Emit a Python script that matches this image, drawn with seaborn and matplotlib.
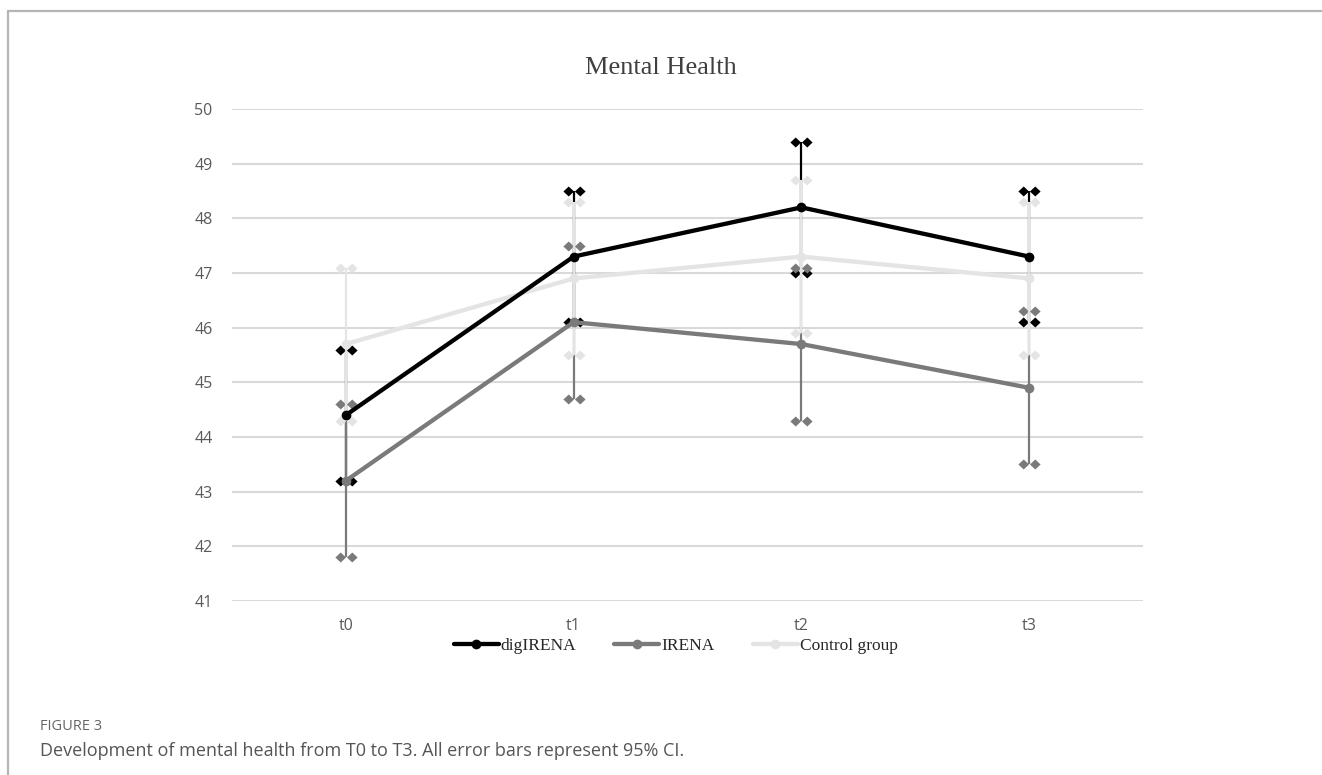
import numpy as np
import pandas as pd
import seaborn as sns
import matplotlib
matplotlib.use("Agg")
import matplotlib.pyplot as plt
from matplotlib.path import Path
from matplotlib.lines import Line2D

# Mean scores per measurement point with 95% CI bounds
timepoints = ["t0", "t1", "t2", "t3"]
groups = ["digIRENA", "IRENA", "Control group"]

digirena_mean = [44.4, 47.3, 48.2, 47.3]
digirena_low = [43.2, 46.1, 47.0, 46.1]
digirena_high = [45.6, 48.5, 49.4, 48.5]

irena_mean = [43.2, 46.1, 45.7, 44.9]
irena_low = [41.8, 44.7, 44.3, 43.5]
irena_high = [44.6, 47.5, 47.1, 46.3]

control_mean = [45.7, 46.9, 47.3, 46.9]
control_low = [44.3, 45.5, 45.9, 45.5]
control_high = [47.1, 48.3, 48.7, 48.3]

y_ticks = [41, 42, 43, 44, 45, 46, 47, 48, 49, 50]

colors = {"digIRENA": "#000000", "IRENA": "#7a7a7a", "Control group": "#e4e4e4"}

means = {"digIRENA": digirena_mean, "IRENA": irena_mean, "Control group": control_mean}
lows = {"digIRENA": digirena_low, "IRENA": irena_low, "Control group": control_low}
highs = {"digIRENA": digirena_high, "IRENA": irena_high, "Control group": control_high}

df = pd.DataFrame({
    "time": timepoints * 3,
    "pos": list(range(4)) * 3,
    "group": np.repeat(groups, 4),
    "score": digirena_mean + irena_mean + control_mean,
})

sns.set_theme(style="white")

fig = plt.figure(figsize=(13.22, 7.75), dpi=100)
ax = fig.add_axes([0.1755, 0.2245, 0.8646 - 0.1755, 0.8594 - 0.2245])

# Twin-diamond cap marker
d = 0.45
verts = [(-1, 0), (-0.52, d), (-0.04, 0), (-0.52, -d), (-1, 0),
         (0.04, 0), (0.52, d), (1, 0), (0.52, -d), (0.04, 0)]
codes = [Path.MOVETO, Path.LINETO, Path.LINETO, Path.LINETO, Path.CLOSEPOLY,
         Path.MOVETO, Path.LINETO, Path.LINETO, Path.LINETO, Path.CLOSEPOLY]
cap_marker = Path(verts, codes)

LW = 3.1
MS = 7

x = np.arange(len(timepoints))
for i, g in enumerate(groups):
    m = np.array(means[g]); lo = np.array(lows[g]); hi = np.array(highs[g])
    ax.errorbar(x, m, yerr=[m - lo, hi - m], fmt="none", ecolor=colors[g],
                elinewidth=1.6, capsize=0, zorder=2 + i * 0.1)
    ax.scatter(x, lo, marker=cap_marker, s=16 ** 2, color=colors[g],
               linewidths=0, zorder=2.05 + i * 0.1)
    ax.scatter(x, hi, marker=cap_marker, s=16 ** 2, color=colors[g],
               linewidths=0, zorder=2.05 + i * 0.1)

sns.lineplot(data=df, x="pos", y="score", hue="group", hue_order=groups,
             palette=colors, marker="o", markersize=MS, markeredgewidth=0,
             linewidth=LW, legend=False, ax=ax)
for ln, z in zip(ax.get_lines()[-3:], [3.3, 3.2, 3.1]):
    ln.set_zorder(z)

ax.set_xlim(-0.5, 3.5)
ax.set_ylim(41, 50)
ax.set_yticks(y_ticks)
ax.set_xticks(x)
ax.set_xticklabels(timepoints)
ax.yaxis.grid(True, color="#d9d9d9", linewidth=1.5)
ax.set_axisbelow(True)
for s in ax.spines.values():
    s.set_visible(False)
ax.tick_params(axis="both", length=0, labelsize=11.5, labelcolor="#595959", pad=14)
for lab in ax.get_xticklabels() + ax.get_yticklabels():
    lab.set_fontfamily("Open Sans")
ax.tick_params(axis="x", pad=12)
ax.set_xlabel("")
ax.set_ylabel("")

fig.text(0.5, 0.912, "Mental Health", ha="center", va="center",
         fontsize=19, family="Liberation Serif", color="#404040")

handles = [Line2D([], [], color=colors[g], lw=LW, marker="o", markersize=MS,
                  markeredgewidth=0) for g in groups]
fig.legend(handles, groups, loc="center", bbox_to_anchor=(0.511, 0.166), ncol=3,
           frameon=False, handlelength=2.6, handletextpad=0.1, columnspacing=2.2,
           borderpad=0.1, prop={"family": "Liberation Serif", "size": 12.5})

# Figure frame and caption
fig.add_artist(Line2D([8 / 1322, 1.0], [1 - 11 / 775, 1 - 11 / 775],
                      transform=fig.transFigure, color="#b5b5b5", lw=1.6))
fig.add_artist(Line2D([8 / 1322, 8 / 1322], [0.0, 1 - 11 / 775],
                      transform=fig.transFigure, color="#b5b5b5", lw=1.6))
fig.text(40 / 1322, 1 - 727 / 775, "FIGURE 3", ha="left", va="center",
         fontsize=10.5, family="Open Sans", color="#666666")
fig.text(40 / 1322, 1 - 751 / 775,
         "Development of mental health from T0 to T3. All error bars represent 95% CI.",
         ha="left", va="center", fontsize=13, family="Open Sans", color="#555555")

fig.savefig("out.png", dpi=100, facecolor="white")
